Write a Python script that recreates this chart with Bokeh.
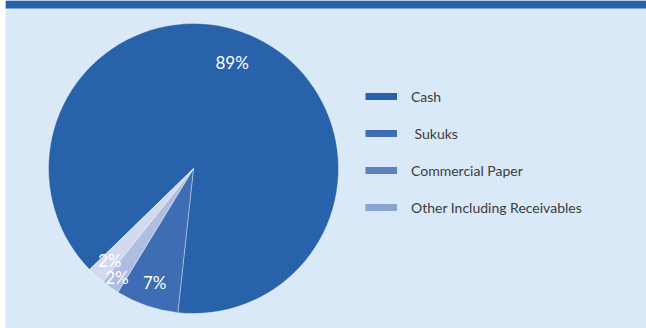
import math
from bokeh.plotting import figure
from bokeh.models import Range1d, Legend, LegendItem, ColumnDataSource, BoxAnnotation
from bokeh.embed import file_html
from bokeh.resources import INLINE
from bokeh.core.properties import value

# ---- data ----
categories = ["Cash", " Sukuks", "Commercial Paper", "Other Including Receivables"]
shares = [89, 7, 2, 2]
pct_labels = ["89%", "7%", "2%", "2%"]
slice_colors = ["#2862AB", "#3F6DB3", "#AEBDE1", "#D3DAEF"]
legend_colors = ["#2862AB", "#3F6DB3", "#5E80C0", "#8AA2D4"]

# ---- layout (pixels) ----
LEFT_GAP = 5
W, H = 646 - LEFT_GAP, 328   # frame size
OX, OY = LEFT_GAP, 0          # page position of the frame
CX, CY, R = 193 - OX, H - (168 - OY), 145
START = math.radians(224.2)
label_r = [0.78, 0.83, 0.92, 0.86]
label_shift = [math.radians(6), 0, 0, 0]
FONT = "Lato"

p = figure(width=W + LEFT_GAP, height=H, output_backend="svg", toolbar_location=None,
           x_range=Range1d(0, W), y_range=Range1d(0, H), min_border=0,
           min_border_left=LEFT_GAP)
p.axis.visible = False
p.grid.visible = False
p.outline_line_color = None
p.background_fill_color = "#DAE9F7"
p.border_fill_color = "white"

total = sum(shares)
starts, ends, lx, ly = [], [], [], []
cum = 0.0
for i, s in enumerate(shares):
    a0 = START - 2 * math.pi * cum / total
    cum += s
    a1 = START - 2 * math.pi * cum / total
    starts.append(a0)
    ends.append(a1)
    mid = (a0 + a1) / 2 + label_shift[i]
    lx.append(CX + R * label_r[i] * math.cos(mid))
    ly.append(CY + R * label_r[i] * math.sin(mid))

src = ColumnDataSource(dict(start=starts, end=ends, color=slice_colors,
                            lx=lx, ly=ly, lab=pct_labels))
p.wedge(x=CX, y=CY, radius=R, start_angle="start", end_angle="end",
        direction="clock", fill_color="color", line_color="white",
        line_alpha=0.35, line_width=1, source=src)
p.text(x="lx", y="ly", text="lab", source=src, text_color="white",
       text_align="center", text_baseline="middle",
       text_font=value(FONT), text_font_size="17px")

p.add_layout(BoxAnnotation(bottom=H - 8, top=H, fill_color="#2862AB",
                           fill_alpha=1, line_alpha=0))

items = []
nan = float("nan")
for name, c in zip(categories, legend_colors):
    r = p.line(x=[nan, nan], y=[nan, nan], line_color=c, line_width=7)
    items.append(LegendItem(label=name, renderers=[r]))

legend = Legend(items=items, location=(365 - OX, H - (217 - OY)),
                glyph_width=32, glyph_height=20, label_height=20,
                spacing=17, label_standoff=14, padding=0, margin=0,
                background_fill_alpha=0, border_line_alpha=0,
                label_text_font=FONT, label_text_font_size="14px",
                label_text_color="#3C3C3C")
p.add_layout(legend)

open("out.html", "w").write(file_html(p, INLINE))
